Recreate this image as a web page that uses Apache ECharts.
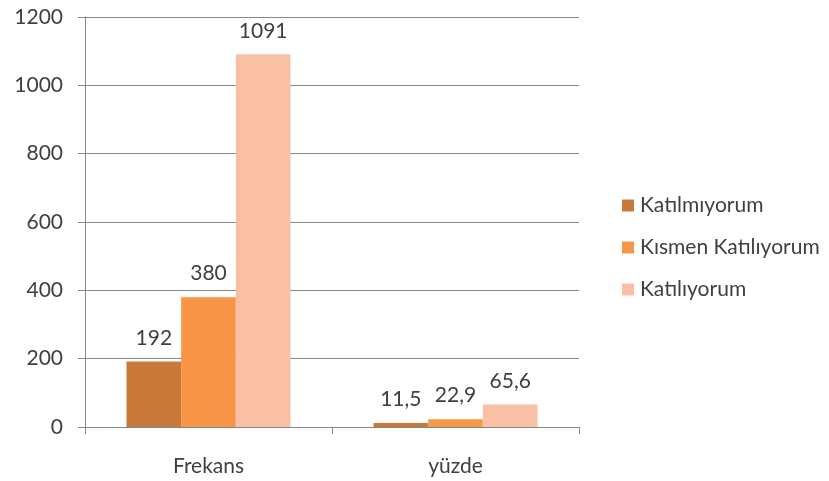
<!DOCTYPE html>
<html><head><meta charset="utf-8">
<script src="https://cdn.jsdelivr.net/npm/echarts@6/dist/echarts.min.js"></script>
<style>html,body{margin:0;padding:0;background:#fff}#c{width:829px;height:481px}</style>
</head><body><div id="c"></div>
<script>
const categories = ['Frekans', 'yüzde'];
const seriesNames = ['Katılmıyorum', 'Kısmen Katılıyorum', 'Katılıyorum'];
const katilmiyorum = [192, 11.5];
const kismenKatiliyorum = [380, 22.9];
const katiliyorum = [1091, 65.6];
const yTicks = [0, 200, 400, 600, 800, 1000, 1200];
const colors = ['#C97A3A', '#F79646', '#F9C0A6'];
const seriesData = [katilmiyorum, kismenKatiliyorum, katiliyorum];
const font = 'Lato, "Open Sans", sans-serif';
const chart = echarts.init(document.getElementById('c'));
chart.setOption({
  animation: false,
  grid: {left: 85, right: 250, top: 17, bottom: 54, containLabel: false},
  legend: {
    orient: 'vertical', left: 617, top: 190, itemWidth: 12, itemHeight: 12, itemGap: 21,
    icon: 'rect',
    textStyle: {fontFamily: font, fontSize: 21, color: '#404040', padding: [0,0,0,1]},
    data: seriesNames
  },
  xAxis: {
    type: 'category', data: categories,
    axisLine: {lineStyle: {color: '#878787', width: 1}},
    axisTick: {show: true, length: 7, lineStyle: {color: '#878787'}},
    axisLabel: {fontFamily: font, fontSize: 21, color: '#404040', margin: 29}
  },
  yAxis: {
    type: 'value', min: yTicks[0], max: yTicks[yTicks.length-1], interval: 200,
    axisLine: {show: true, lineStyle: {color: '#878787'}},
    axisTick: {show: true, length: 7, lineStyle: {color: '#878787'}},
    splitLine: {lineStyle: {color: '#878787', width: 1}},
    axisLabel: {fontFamily: font, fontSize: 21, color: '#404040', margin: 22, formatter: v => String(v)}
  },
  series: seriesData.map((d, i) => ({
    name: seriesNames[i], type: 'bar', data: d,
    barGap: '0%', barCategoryGap: '33.6%',
    itemStyle: {color: colors[i]},
    label: {show: true, position: 'top', distance: 13, fontFamily: font, fontSize: 21, color: '#404040',
      formatter: p => String(p.value).replace('.', ',')}
  }))
});
</script></body></html>
